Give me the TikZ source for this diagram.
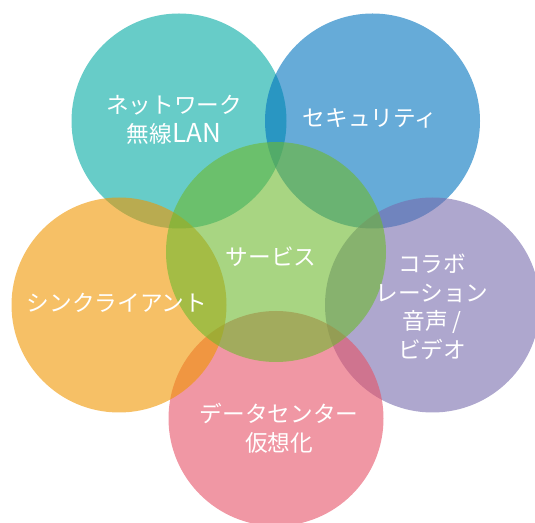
\documentclass[tikz,border=0pt]{standalone}
\usepackage{fontspec}
\setmainfont{Noto Sans CJK JP}
\usepackage{tikz}

\begin{document}
\begin{tikzpicture}[x=0.75pt,y=0.75pt,yscale=-1,xscale=1,
  bubble/.style={draw=none, fill opacity=0.6},
  lbl/.style={text=white, align=center, inner sep=0.75pt, font=\fontsize{17}{21.5}\selectfont}]
%set diagram left start at 0, and has height of 523
\clip (0,0) rectangle (535,523);

%Shape: Circle [id:network]
\draw [bubble, fill={rgb, 255:red, 2; green, 170; blue, 163 }] (179,121) circle (107.5);
%Shape: Circle [id:security]
\draw [bubble, fill={rgb, 255:red, 0; green, 115; blue, 190 }] (372.5,121) circle (107.5);
%Shape: Circle [id:collab]
\draw [bubble, fill={rgb, 255:red, 120; green, 108; blue, 173 }] (432.5,305) circle (107.5);
%Shape: Circle [id:datacenter]
\draw [bubble, fill={rgb, 255:red, 230; green, 82; blue, 103 }] (276,418.5) circle (107.5);
%Shape: Circle [id:client]
\draw [bubble, fill={rgb, 255:red, 240; green, 150; blue, 0 }] (119,305) circle (107.5);
%Shape: Circle [id:service]
\draw [bubble, fill={rgb, 255:red, 110; green, 185; blue, 47 }] (276,252) circle (110);

% Text Node
\node [lbl] (network) at (174,120) {ネットワーク\\無線{\fontsize{19.5}{21.5}\selectfont LAN}};
% Text Node
\node [lbl] (security) at (370,118) {セキュリティ};
% Text Node
\node [lbl] (service) at (271,257) {サービス};
% Text Node
\node [lbl] (client) at (117,303) {シンクライアント};
% Text Node
\node [lbl] (collab) at (432,307) {コラボ\\レーション\\音声 /\\ビデオ};
% Text Node
\node [lbl] (datacenter) at (279,428) {データセンター\\仮想化};

\end{tikzpicture}
\end{document}
